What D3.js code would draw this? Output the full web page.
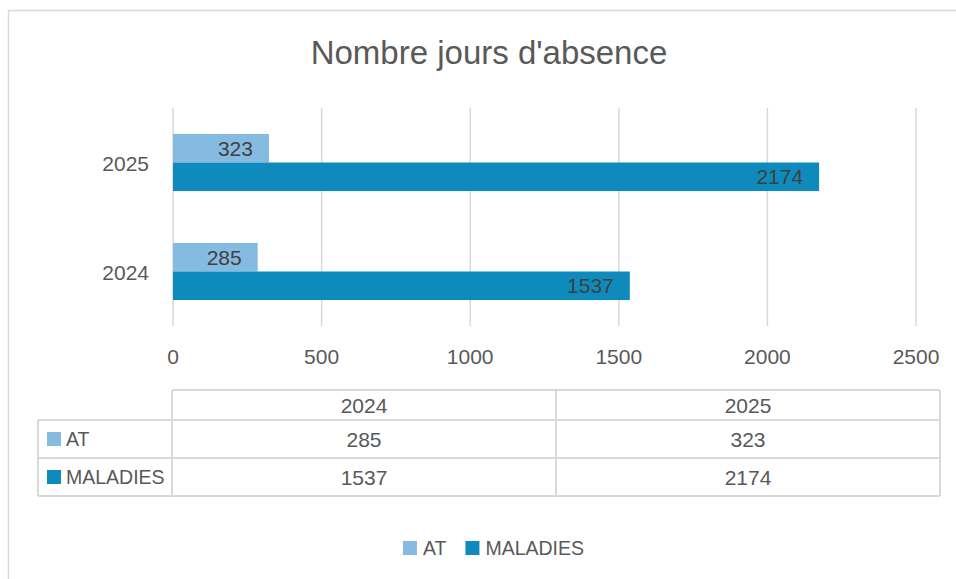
<!DOCTYPE html>
<html>
<head>
<meta charset="utf-8">
<script src="https://cdn.jsdelivr.net/npm/d3@7"></script>
<style>
  body { margin: 0; background: #fff; }
  svg { display: block; font-family: "Liberation Sans", Arial, sans-serif; }
</style>
</head>
<body>
<svg id="chart" width="956" height="579"></svg>
<script>
// chart data
const years = ['2024', '2025'];
const series = ['AT', 'MALADIES'];
const atValues = [285, 323];
const maladiesValues = [1537, 2174];
const xTicks = [0, 500, 1000, 1500, 2000, 2500];
const colors = { AT: '#86bbe1', MALADIES: '#0e8abd' };

const valuesBySeries = { AT: atValues, MALADIES: maladiesValues };

const svg = d3.select('#chart');
const textColor = '#595959';
const gridColor = '#d9d9d9';

// outer chart border (runs off the right and bottom of the picture)
svg.append('rect')
    .attr('x', 8.5)
    .attr('y', 10.5)
    .attr('width', 1000)
    .attr('height', 700)
    .attr('fill', 'none')
    .attr('stroke', gridColor)
    .attr('stroke-width', 1.5);

// title
svg.append('text')
    .attr('x', 489)
    .attr('y', 64)
    .attr('text-anchor', 'middle')
    .attr('font-size', '33px')
    .attr('fill', textColor)
    .text("Nombre jours d'absence");

// scales
const plotTop = 108, plotBottom = 326;
const x = d3.scaleLinear().domain([0, 2500]).range([173, 916]);

// Excel draws the first category at the bottom
const y0 = d3.scaleBand()
    .domain(years.slice().reverse())
    .range([plotTop, plotBottom])
    .padding(0);

const y1 = d3.scaleBand()
    .domain(series)
    .range([0, y0.bandwidth()])
    .paddingInner(0)
    .paddingOuter(0.91);

// vertical gridlines
svg.append('g')
    .selectAll('line')
    .data(xTicks)
    .enter().append('line')
    .attr('x1', d => x(d))
    .attr('x2', d => x(d))
    .attr('y1', plotTop)
    .attr('y2', plotBottom)
    .attr('stroke', gridColor)
    .attr('stroke-width', 1.5);

// x tick labels
svg.append('g')
    .selectAll('text')
    .data(xTicks)
    .enter().append('text')
    .attr('x', d => x(d))
    .attr('y', 364)
    .attr('text-anchor', 'middle')
    .attr('font-size', '21px')
    .attr('fill', textColor)
    .text(d => d);

// y category labels
svg.append('g')
    .selectAll('text')
    .data(years)
    .enter().append('text')
    .attr('x', 149)
    .attr('y', d => y0(d) + y0.bandwidth() / 2 + 8)
    .attr('text-anchor', 'end')
    .attr('font-size', '21px')
    .attr('fill', textColor)
    .text(d => d);

// bars + data labels
const barData = [];
series.forEach(s => {
    years.forEach((yr, i) => {
        barData.push({ series: s, year: yr, value: valuesBySeries[s][i] });
    });
});

svg.append('g')
    .selectAll('rect')
    .data(barData)
    .enter().append('rect')
    .attr('x', x(0))
    .attr('y', d => y0(d.year) + y1(d.series))
    .attr('width', d => x(d.value) - x(0))
    .attr('height', y1.bandwidth())
    .attr('fill', d => colors[d.series]);

svg.append('g')
    .selectAll('text')
    .data(barData)
    .enter().append('text')
    .attr('x', d => x(d.value) - 16)
    .attr('y', d => y0(d.year) + y1(d.series) + y1.bandwidth() / 2 + 7.5)
    .attr('text-anchor', 'end')
    .attr('font-size', '21px')
    .attr('fill', '#404040')
    .text(d => d.value);

// data table under the axis
const tableLeft = 38, tableRight = 940, labelColRight = 172;
const rowTops = [390, 420, 458, 496];
const col = d3.scaleBand().domain(years).range([labelColRight, tableRight]);
const table = svg.append('g');

// horizontal lines
rowTops.forEach((ry, i) => {
    table.append('line')
        .attr('x1', i === 0 ? labelColRight : tableLeft)
        .attr('x2', tableRight)
        .attr('y1', ry)
        .attr('y2', ry)
        .attr('stroke', gridColor)
        .attr('stroke-width', 2);
});
// vertical lines
[tableLeft, labelColRight, col('2025'), tableRight].forEach(cx => {
    table.append('line')
        .attr('x1', cx)
        .attr('x2', cx)
        .attr('y1', cx === tableLeft ? rowTops[1] : rowTops[0])
        .attr('y2', rowTops[3])
        .attr('stroke', gridColor)
        .attr('stroke-width', 2);
});

// header
table.selectAll('.head')
    .data(years)
    .enter().append('text')
    .attr('class', 'head')
    .attr('x', d => col(d) + col.bandwidth() / 2)
    .attr('y', (rowTops[0] + rowTops[1]) / 2 + 7.5)
    .attr('text-anchor', 'middle')
    .attr('font-size', '21px')
    .attr('fill', textColor)
    .text(d => d);

series.forEach((s, r) => {
    const cy = (rowTops[r + 1] + rowTops[r + 2]) / 2;
    table.append('rect')
        .attr('x', 47)
        .attr('y', cy - 7)
        .attr('width', 14)
        .attr('height', 14)
        .attr('fill', colors[s]);
    table.append('text')
        .attr('x', 66)
        .attr('y', cy + 7)
        .attr('font-size', '19.5px')
        .attr('fill', textColor)
        .text(s);
    table.selectAll('.v' + r)
        .data(years)
        .enter().append('text')
        .attr('x', d => col(d) + col.bandwidth() / 2)
        .attr('y', cy + 7.5)
        .attr('text-anchor', 'middle')
        .attr('font-size', '21px')
        .attr('fill', textColor)
        .text((d, i) => valuesBySeries[s][i]);
});

// bottom legend, centred on the chart
const legend = svg.append('g');
let lx = 0;
series.forEach(s => {
    const item = legend.append('g').attr('transform', `translate(${lx},0)`);
    item.append('rect')
        .attr('x', 0)
        .attr('y', -7)
        .attr('width', 14)
        .attr('height', 14)
        .attr('fill', colors[s]);
    const t = item.append('text')
        .attr('x', 20)
        .attr('y', 7)
        .attr('font-size', '19.5px')
        .attr('fill', textColor)
        .text(s);
    lx += 20 + t.node().getComputedTextLength() + 19;
});
const legendWidth = lx - 19;
legend.attr('transform', `translate(${493.5 - legendWidth / 2},548)`);
</script>
</body>
</html>
